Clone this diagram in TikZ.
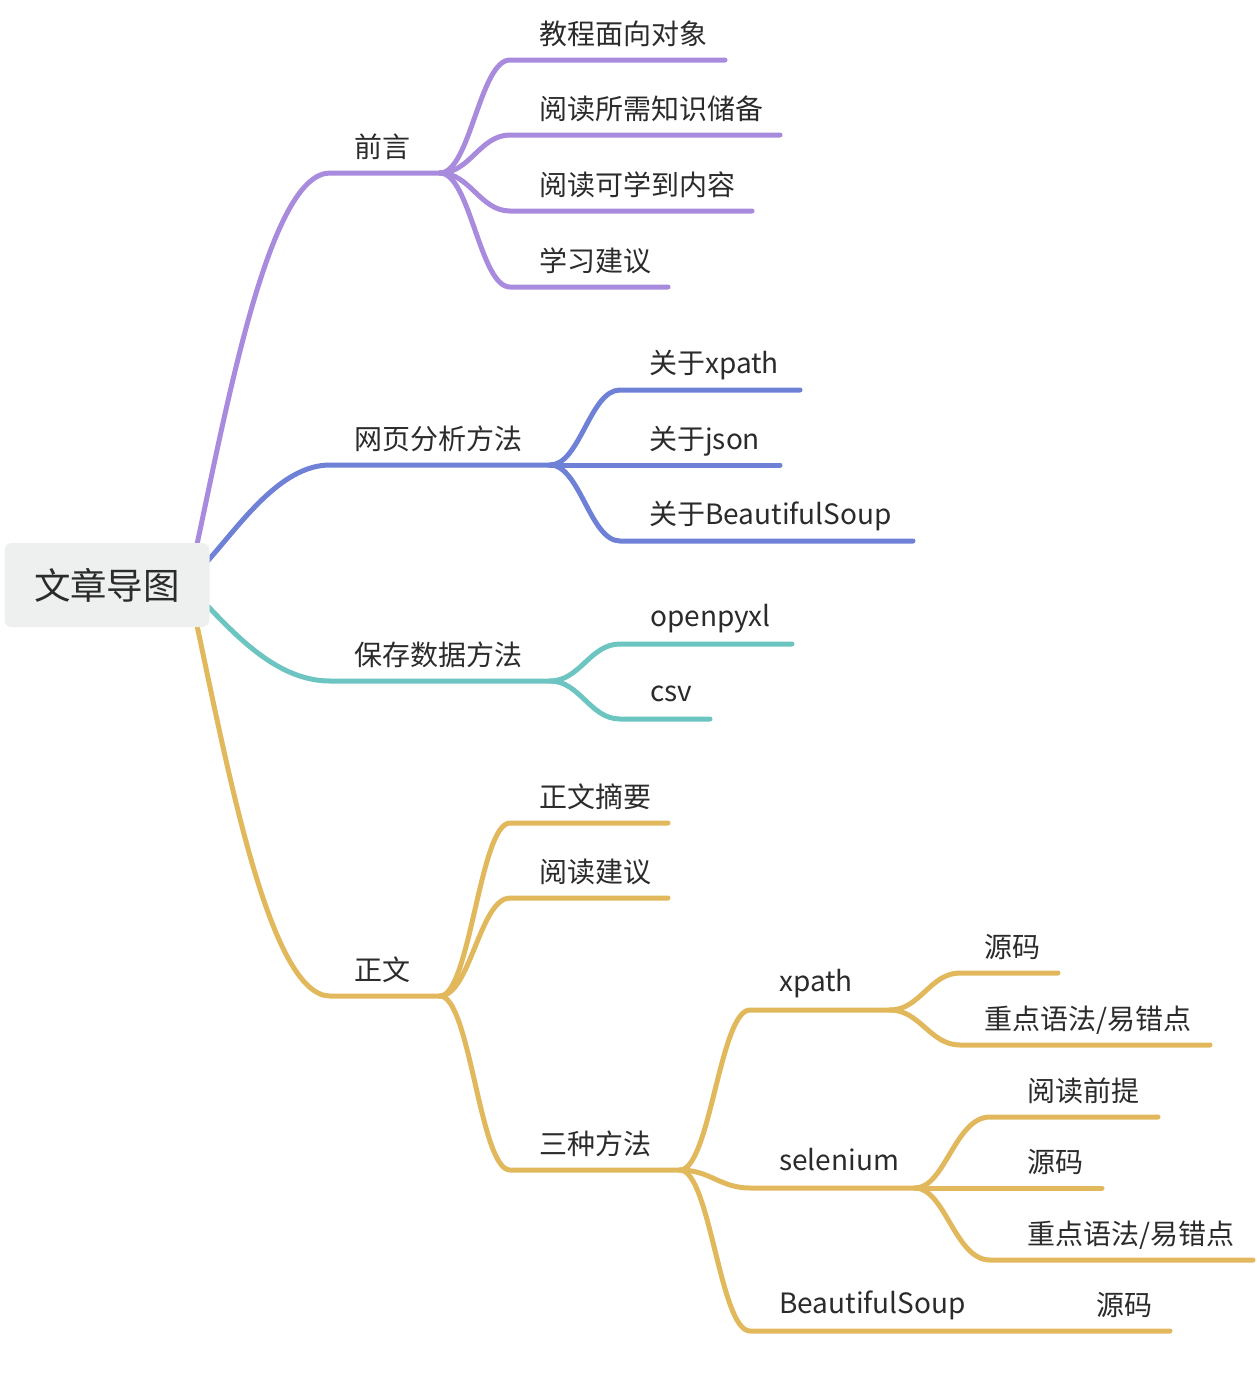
\documentclass[tikz,border=0pt]{standalone}
\usepackage{fontspec}
\setmainfont{Noto Sans CJK SC}
\usepackage{xcolor}
\definecolor{cPurple}{HTML}{A88BDD}
\definecolor{cBlue}{HTML}{6E81D6}
\definecolor{cTeal}{HTML}{6CC5C1}
\definecolor{cGold}{HTML}{E1B85C}
\definecolor{cRoot}{HTML}{EEF0EF}
\definecolor{cText}{HTML}{2B2B2B}
\usepackage{tikz}
\usetikzlibrary{calc,backgrounds}
\tikzset{
  node-root/.style={fill=cRoot,rounded corners=7pt,minimum width=205pt,
    minimum height=84pt,text=cText,font=\fontsize{36.5}{40}\selectfont},
  node-topic/.style={anchor=base west,inner sep=0pt,text=cText,
    font=\fontsize{28}{31}\selectfont},
  branch/.style={line width=5pt,line cap=round,line join=round},
  branch-purple/.style={branch,draw=cPurple},
  branch-blue/.style={branch,draw=cBlue},
  branch-teal/.style={branch,draw=cTeal},
  branch-gold/.style={branch,draw=cGold},
}

\begin{document}
\begin{tikzpicture}[x=1pt,y=-1pt]
  \useasboundingbox (0,0) rectangle (1256,1376);
  \node[node-root] (root) at (107,585) {文章导图};

  % 一级主题
  \node[node-topic] (qy) at (354,157) {前言};
  \node[node-topic] (wy) at (354,449) {网页分析方法};
  \node[node-topic] (bc) at (354,665) {保存数据方法};
  \node[node-topic] (zw) at (354,980) {正文};
  \coordinate (qy-l) at (330,173); \coordinate (qy-r) at (440,173);
  \coordinate (wy-l) at (330,465); \coordinate (wy-r) at (550,465);
  \coordinate (bc-l) at (330,681); \coordinate (bc-r) at (550,681);
  \coordinate (zw-l) at (330,996); \coordinate (zw-r) at (440,996);

  % 前言
  \node[node-topic] (qy1) at (539,44)  {教程面向对象};
  \node[node-topic] (qy2) at (539,119) {阅读所需知识储备};
  \node[node-topic] (qy3) at (539,195) {阅读可学到内容};
  \node[node-topic] (qy4) at (539,271) {学习建议};
  % 网页分析方法
  \node[node-topic] (wy1) at (649,373) {关于xpath};
  \node[node-topic] (wy2) at (649,449) {关于json};
  \node[node-topic] (wy3) at (649,524) {关于BeautifulSoup};
  % 保存数据方法
  \node[node-topic] (bc1) at (650,626) {openpyxl};
  \node[node-topic] (bc2) at (650,701) {csv};
  % 正文
  \node[node-topic] (zw1) at (539,807)  {正文摘要};
  \node[node-topic] (zw2) at (539,882)  {阅读建议};
  \node[node-topic] (zw3) at (539,1154) {三种方法};
  \node[node-topic] (fa1) at (779,991)  {xpath};
  \node[node-topic] (fa2) at (779,1170) {selenium};
  \node[node-topic] (fa3) at (779,1313) {BeautifulSoup};
  \node[node-topic] (xp1) at (984,957)  {源码};
  \node[node-topic] (xp2) at (984,1029) {重点语法/易错点};
  \node[node-topic] (se1) at (1027,1101) {阅读前提};
  \node[node-topic] (se2) at (1027,1172) {源码};
  \node[node-topic] (se3) at (1027,1244) {重点语法/易错点};
  \node[node-topic] (bs1) at (1096,1315) {源码};

  \begin{scope}[on background layer]
    % 根 -> 一级
    \draw[branch-purple] ($(root.north east)+(-13,3)$) .. controls (228,400) and (270,173) .. (qy-l) -- (qy-r);
    \draw[branch-blue] ($(root.east)+(-3,-23)$) .. controls (240,525) and (280,465) .. (wy-l) -- (wy-r);
    \draw[branch-teal] ($(root.east)+(-3,20)$) .. controls (240,640) and (280,681) .. (bc-l) -- (bc-r);
    \draw[branch-gold] ($(root.south east)+(-13,-3)$) .. controls (228,770) and (270,996) .. (zw-l) -- (zw-r);

    % 前言
    \foreach \n/\y/\e in {qy1/60/725, qy2/135/780, qy3/211/752, qy4/287/668}
      \draw[branch-purple] (qy-r) .. controls (470,173) and (480,\y) .. (510,\y) -- (\e,\y);
    % 网页分析方法
    \foreach \n/\y/\e in {wy1/390/800, wy2/465/780, wy3/541/913}
      \draw[branch-blue] (wy-r) .. controls (580,465) and (590,\y) .. (620,\y) -- (\e,\y);
    % 保存数据方法
    \foreach \n/\y/\e in {bc1/644/792, bc2/719/710}
      \draw[branch-teal] (bc-r) .. controls (580,681) and (590,\y) .. (620,\y) -- (\e,\y);
    % 正文
    \foreach \n/\y/\e in {zw1/823/668, zw2/898/668, zw3/1170/680}
      \draw[branch-gold] (zw-r) .. controls (470,996) and (480,\y) .. (510,\y) -- (\e,\y);
    \coordinate (zw3-r) at (680,1170);
    \coordinate (fa1-r) at (890,1010);
    \coordinate (fa2-r) at (915,1188);
    \coordinate (fa3-r) at (1070,1331);
    \draw[branch-gold] (zw3-r) .. controls (710,1170) and (720,1010) .. (750,1010) -- (fa1-r);
    \draw[branch-gold] (zw3-r) .. controls (710,1170) and (720,1188) .. (750,1188) -- (fa2-r);
    % BeautifulSoup -> 源码
    \draw[branch-gold] (zw3-r) .. controls (710,1170) and (720,1331) .. (750,1331) -- (fa3-r) -- (1170,1331);
    % xpath
    \foreach \n/\y/\e in {xp1/973/1058, xp2/1045/1210}
      \draw[branch-gold] (fa1-r) .. controls (920,1010) and (930,\y) .. (960,\y) -- (\e,\y);
    % selenium
    \foreach \n/\y/\e in {se1/1117/1158, se2/1188/1102, se3/1260/1253}
      \draw[branch-gold] (fa2-r) .. controls (945,1188) and (955,\y) .. (990,\y) -- (\e,\y);
  \end{scope}
\end{tikzpicture}
\end{document}
